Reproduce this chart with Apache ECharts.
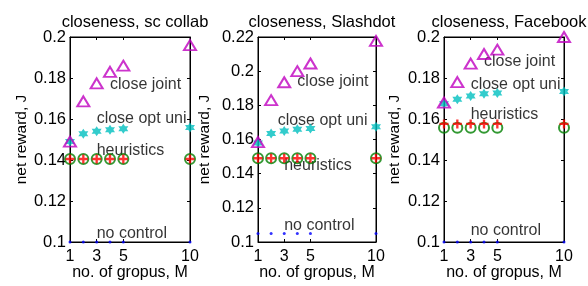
<!DOCTYPE html>
<html>
<head>
<meta charset="utf-8">
<script src="https://cdn.jsdelivr.net/npm/echarts@6/dist/echarts.min.js"></script>
<style>
  html, body { margin: 0; padding: 0; background: #fff; }
  #chart { width: 588px; height: 286px; }
</style>
</head>
<body>
<div id="chart"></div>
<script>
// x positions: number of groups M
var groups = [1, 2, 3, 4, 5, 10];
var xTicks = [1, 3, 5, 10];

var titles = ['closeness, sc collab', 'closeness, Slashdot', 'closeness, Facebook'];
var yMax = [0.2, 0.22, 0.2];

// sc collab
var joint1 = [0.149, 0.1686, 0.1774, 0.183, 0.186, 0.196];
var uni1 = [0.149, 0.1528, 0.154, 0.1548, 0.1552, 0.1558];
var heurCirc1 = [0.1405, 0.1405, 0.1405, 0.1405, 0.1405, 0.1405];
var heurPlus1 = [0.1405, 0.1405, 0.1405, 0.1405, 0.1405, 0.1405];
var none1 = [0.1, 0.1, 0.1, 0.1, 0.1, 0.1];

// Slashdot
var joint2 = [0.1585, 0.183, 0.1935, 0.2, 0.2045, 0.2177];
var uni2 = [0.158, 0.1635, 0.165, 0.166, 0.1665, 0.1675];
var heurCirc2 = [0.149, 0.149, 0.149, 0.149, 0.149, 0.149];
var heurPlus2 = [0.149, 0.149, 0.149, 0.149, 0.149, 0.149];
var none2 = [0.105, 0.105, 0.105, 0.105, 0.105, 0.105];

// Facebook
var joint3 = [0.168, 0.178, 0.187, 0.1917, 0.1938, 0.2];
var uni3 = [0.1675, 0.1696, 0.1712, 0.1723, 0.1727, 0.1734];
var heurCirc3 = [0.1557, 0.1557, 0.1557, 0.1557, 0.1557, 0.1557];
var heurPlus3 = [0.1576, 0.1576, 0.1576, 0.1576, 0.1576, 0.1576];
var none3 = [0.1, 0.1, 0.1, 0.1, 0.1, 0.1];

// text annotations [x, y] in data units
var noteNames = ['close joint', 'close opt uni', 'heuristics', 'no control'];
var notes1 = [[4, 0.177], [3, 0.16], [3, 0.1448], [3, 0.1042]];
var notes2 = [[4, 0.194], [2.5, 0.171], [3, 0.1445], [3, 0.1096]];
var notes3 = [[4, 0.188], [3, 0.177], [3, 0.162], [3, 0.1056]];

var panels = [
  { joint: joint1, uni: uni1, circ: heurCirc1, plus: heurPlus1, none: none1, notes: notes1 },
  { joint: joint2, uni: uni2, circ: heurCirc2, plus: heurPlus2, none: none2, notes: notes2 },
  { joint: joint3, uni: uni3, circ: heurCirc3, plus: heurPlus3, none: none3, notes: notes3 }
];

var FONT = '"Liberation Sans", Arial, sans-serif';
var hexagram = 'path://M0,-10L2.89,-5L8.66,-5L5.77,0L8.66,5L2.89,5L0,10L-2.89,5L-8.66,5L-5.77,0L-8.66,-5L-2.89,-5Z';
var plusSym = 'path://M-1.3,-5L1.3,-5L1.3,-1.3L5,-1.3L5,1.3L1.3,1.3L1.3,5L-1.3,5L-1.3,1.3L-5,1.3L-5,-1.3L-1.3,-1.3Z';

var grids = [
  { left: 70, top: 37, width: 120, height: 209 },
  { left: 258, top: 37, width: 118, height: 209 },
  { left: 444, top: 37, width: 120, height: 209 }
];
var yNameGap = [40, 45, 41];

function pts(ys) {
  return groups.map(function (x, i) { return [x, ys[i]]; });
}

var option = {
  animation: false,
  backgroundColor: '#fff',
  textStyle: { fontFamily: FONT, color: '#000' },
  title: [],
  grid: [],
  xAxis: [],
  yAxis: [],
  series: []
};

grids.forEach(function (g, i) {
  option.grid.push({
    left: g.left, top: g.top, width: g.width, height: g.height,
    show: true, borderColor: '#000', borderWidth: 1, backgroundColor: 'transparent'
  });
  option.title.push({
    text: titles[i],
    left: g.left + g.width / 2,
    top: 9,
    textAlign: 'center',
    textStyle: { fontFamily: FONT, fontSize: 16.5, fontWeight: 'normal', color: '#000' }
  });
});

// bottom x axes
grids.forEach(function (g, i) {
  option.xAxis.push({
    type: 'value', gridIndex: i, min: 1, max: 10, position: 'bottom',
    name: 'no. of gropus, M', nameLocation: 'middle', nameGap: 23, nameMoveOverlap: false,
    nameTextStyle: { fontFamily: FONT, fontSize: 16, color: '#000' },
    axisLine: { show: true, lineStyle: { color: '#000', width: 1 } },
    axisTick: { show: true, inside: true, length: 3, customValues: xTicks, lineStyle: { color: '#000' } },
    axisLabel: { customValues: xTicks, margin: 7, fontFamily: FONT, fontSize: 16, color: '#000' },
    splitLine: { show: false }
  });
});
// top x axes (mirrored ticks)
grids.forEach(function (g, i) {
  option.xAxis.push({
    type: 'value', gridIndex: i, min: 1, max: 10, position: 'top',
    axisLine: { show: true, lineStyle: { color: '#000', width: 1 } },
    axisTick: { show: true, inside: true, length: 3, customValues: xTicks, lineStyle: { color: '#000' } },
    axisLabel: { show: false },
    splitLine: { show: false }
  });
});
// left y axes
grids.forEach(function (g, i) {
  option.yAxis.push({
    type: 'value', gridIndex: i, min: 0.1, max: yMax[i], interval: 0.02, position: 'left',
    name: 'net reward, J', nameLocation: 'middle', nameGap: yNameGap[i], nameMoveOverlap: false,
    nameTextStyle: { fontFamily: FONT, fontSize: 15.5, color: '#000' },
    axisLine: { show: true, lineStyle: { color: '#000', width: 1 } },
    axisTick: { show: true, inside: true, length: 3, lineStyle: { color: '#000' } },
    axisLabel: { margin: 4, fontFamily: FONT, fontSize: 16.5, color: '#000' },
    splitLine: { show: false }
  });
});
// right y axes (mirrored ticks)
grids.forEach(function (g, i) {
  option.yAxis.push({
    type: 'value', gridIndex: i, min: 0.1, max: yMax[i], interval: 0.02, position: 'right',
    axisLine: { show: true, lineStyle: { color: '#000', width: 1 } },
    axisTick: { show: true, inside: true, length: 3, lineStyle: { color: '#000' } },
    axisLabel: { show: false },
    splitLine: { show: false }
  });
});

panels.forEach(function (p, i) {
  var base = { type: 'scatter', xAxisIndex: i, yAxisIndex: i, clip: false, silent: true };
  option.series.push(Object.assign({}, base, {
    name: 'heuristics circle', data: pts(p.circ), symbol: 'circle', symbolSize: 10,
    itemStyle: { color: 'rgba(0,0,0,0)', borderColor: '#008000', borderWidth: 2 }
  }));
  option.series.push(Object.assign({}, base, {
    name: 'heuristics plus', data: pts(p.plus), symbol: plusSym, symbolSize: 9,
    itemStyle: { color: '#ff0000' }
  }));
  option.series.push(Object.assign({}, base, {
    name: 'close opt uni', data: pts(p.uni), symbol: hexagram, symbolSize: 10,
    itemStyle: { color: '#00bfbf' }
  }));
  option.series.push(Object.assign({}, base, {
    name: 'close joint', data: pts(p.joint), symbol: 'triangle', symbolSize: [12, 10],
    itemStyle: { color: 'rgba(0,0,0,0)', borderColor: '#bf00bf', borderWidth: 2 }
  }));
  option.series.push(Object.assign({}, base, {
    name: 'no control', data: pts(p.none), symbol: 'circle', symbolSize: 3,
    itemStyle: { color: '#0000ff' }
  }));
  option.series.push(Object.assign({}, base, {
    name: 'notes',
    symbolSize: 0,
    data: p.notes.map(function (n, k) { return { name: noteNames[k], value: n }; }),
    label: {
      show: true, position: 'right', distance: 0,
      formatter: function (d) { return d.name; },
      fontFamily: FONT, fontSize: 16, color: '#000'
    },
    z: 1
  }));
});

var chart = echarts.init(document.getElementById('chart'), null, { renderer: 'canvas' });
chart.setOption(option);
</script>
</body>
</html>
